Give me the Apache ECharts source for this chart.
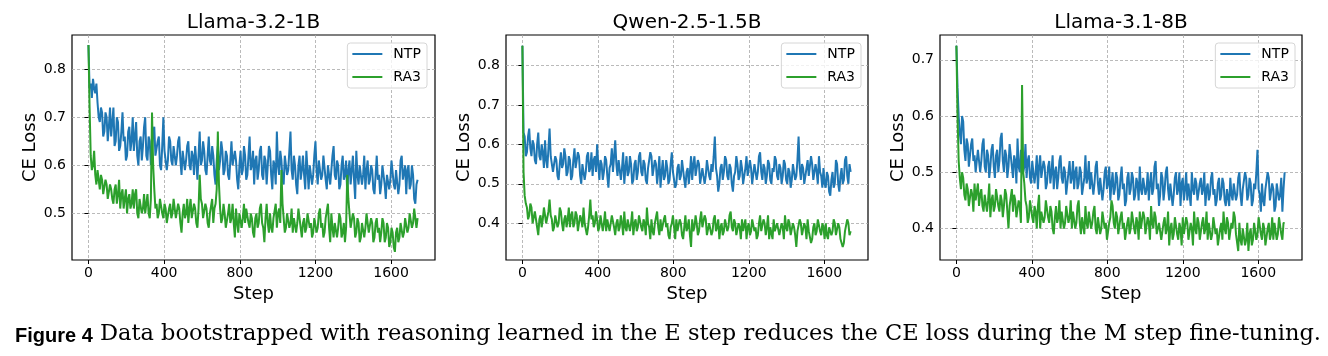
<!DOCTYPE html>
<html>
<head>
<meta charset="utf-8">
<script src="https://cdn.jsdelivr.net/npm/echarts@6/dist/echarts.min.js"></script>
<style>html,body{margin:0;padding:0;background:#fff;}#c{width:1328px;height:356px;}</style>
</head>
<body>
<div id="c"></div>
<script>
const panelTitles = ['Llama-3.2-1B', 'Qwen-2.5-1.5B', 'Llama-3.1-8B'];
const seriesNames = ['NTP', 'RA3'];
const xTicks = [0, 400, 800, 1200, 1600];
const yTicks1 = [0.5, 0.6, 0.7, 0.8];
const yTicks2 = [0.4, 0.5, 0.6, 0.7, 0.8];
const yTicks3 = [0.4, 0.5, 0.6, 0.7];

const steps = [0,6,12,18,24,30,36,42,48,54,60,66,72,78,84,90,96,102,108,114,
120,126,132,138,144,150,156,162,168,174,180,186,192,198,204,210,216,222,228,234,
240,246,252,258,264,270,276,282,288,294,300,306,312,318,324,330,336,342,348,354,
360,366,372,378,384,390,396,402,408,414,420,426,432,438,444,450,456,462,468,474,
480,486,492,498,504,510,516,522,528,534,540,546,552,558,564,570,576,582,588,594,
600,606,612,618,624,630,636,642,648,654,660,666,672,678,684,690,696,702,708,714,
720,726,732,738,744,750,756,762,768,774,780,786,792,798,804,810,816,822,828,834,
840,846,852,858,864,870,876,882,888,894,900,906,912,918,924,930,936,942,948,954,
960,966,972,978,984,990,996,1002,1008,1014,1020,1026,1032,1038,1044,1050,1056,1062,1068,1074,
1080,1086,1092,1098,1104,1110,1116,1122,1128,1134,1140,1146,1152,1158,1164,1170,1176,1182,1188,1194,
1200,1206,1212,1218,1224,1230,1236,1242,1248,1254,1260,1266,1272,1278,1284,1290,1296,1302,1308,1314,
1320,1326,1332,1338,1344,1350,1356,1362,1368,1374,1380,1386,1392,1398,1404,1410,1416,1422,1428,1434,
1440,1446,1452,1458,1464,1470,1476,1482,1488,1494,1500,1506,1512,1518,1524,1530,1536,1542,1548,1554,
1560,1566,1572,1578,1584,1590,1596,1602,1608,1614,1620,1626,1632,1638,1644,1650,1656,1662,1668,1674,
1680,1686,1692,1698,1704,1710,1716,1722,1728,1734,1740];

const llama1bNTP = [0.85,0.76,0.77,0.74,0.78,0.76,0.75,0.77,0.73,0.70,0.69,0.72,0.71,0.66,0.67,0.71,0.70,0.65,0.68,0.72,
0.66,0.69,0.72,0.64,0.65,0.70,0.69,0.63,0.64,0.67,0.71,0.65,0.66,0.61,0.62,0.67,0.68,0.63,0.65,0.70,
0.63,0.66,0.69,0.62,0.60,0.65,0.66,0.61,0.64,0.68,0.70,0.62,0.61,0.66,0.65,0.60,0.63,0.67,0.68,0.62,
0.62,0.65,0.66,0.60,0.59,0.64,0.70,0.63,0.63,0.59,0.61,0.66,0.65,0.61,0.60,0.64,0.64,0.60,0.62,0.65,
0.66,0.61,0.58,0.63,0.63,0.59,0.61,0.64,0.65,0.60,0.59,0.63,0.62,0.58,0.64,0.61,0.57,0.62,0.67,0.60,
0.61,0.65,0.63,0.59,0.58,0.62,0.66,0.61,0.60,0.64,0.62,0.58,0.56,0.61,0.64,0.59,0.61,0.65,0.63,0.58,
0.59,0.63,0.62,0.58,0.57,0.61,0.65,0.60,0.60,0.63,0.61,0.57,0.55,0.60,0.63,0.58,0.59,0.64,0.62,0.57,
0.58,0.62,0.66,0.59,0.60,0.63,0.56,0.61,0.62,0.57,0.59,0.63,0.64,0.58,0.57,0.62,0.61,0.56,0.60,0.64,
0.63,0.58,0.55,0.61,0.60,0.56,0.67,0.60,0.58,0.63,0.61,0.57,0.56,0.62,0.62,0.58,0.59,0.63,0.67,0.59,
0.57,0.62,0.60,0.56,0.54,0.60,0.62,0.57,0.59,0.62,0.58,0.55,0.63,0.59,0.55,0.60,0.60,0.56,0.58,0.62,
0.65,0.59,0.56,0.61,0.61,0.57,0.58,0.62,0.62,0.57,0.55,0.60,0.60,0.56,0.59,0.62,0.64,0.58,0.57,0.61,
0.60,0.55,0.56,0.60,0.62,0.57,0.58,0.61,0.54,0.59,0.61,0.56,0.59,0.62,0.57,0.53,0.63,0.58,0.56,0.60,
0.60,0.56,0.58,0.62,0.55,0.59,0.61,0.56,0.57,0.60,0.59,0.55,0.54,0.58,0.62,0.57,0.58,0.54,0.56,0.60,
0.60,0.56,0.53,0.58,0.58,0.55,0.57,0.61,0.61,0.56,0.55,0.59,0.59,0.54,0.56,0.61,0.62,0.57,0.57,0.60,
0.54,0.59,0.60,0.55,0.56,0.60,0.58,0.53,0.52,0.56,0.57];
const llama1bRA3 = [0.85,0.72,0.62,0.59,0.60,0.63,0.58,0.56,0.59,0.57,0.55,0.58,0.57,0.54,0.54,0.57,0.56,0.53,0.53,0.56,
0.55,0.53,0.52,0.55,0.56,0.52,0.54,0.57,0.51,0.54,0.55,0.51,0.53,0.55,0.50,0.53,0.54,0.51,0.52,0.55,
0.51,0.54,0.55,0.50,0.49,0.53,0.53,0.50,0.51,0.54,0.50,0.52,0.54,0.50,0.49,0.53,0.71,0.60,0.55,0.51,
0.52,0.49,0.50,0.53,0.53,0.50,0.49,0.52,0.51,0.48,0.48,0.51,0.52,0.49,0.50,0.53,0.53,0.49,0.49,0.52,
0.51,0.48,0.46,0.50,0.52,0.49,0.50,0.53,0.48,0.51,0.53,0.49,0.49,0.52,0.51,0.48,0.47,0.51,0.58,0.53,
0.52,0.49,0.49,0.52,0.51,0.48,0.47,0.50,0.50,0.53,0.48,0.51,0.52,0.55,0.67,0.56,0.51,0.48,0.49,0.52,
0.50,0.47,0.47,0.50,0.52,0.48,0.49,0.52,0.48,0.45,0.51,0.48,0.46,0.50,0.50,0.47,0.49,0.52,0.48,0.51,
0.51,0.48,0.47,0.50,0.49,0.46,0.45,0.49,0.50,0.47,0.48,0.51,0.52,0.48,0.47,0.44,0.49,0.52,0.48,0.46,
0.50,0.47,0.46,0.49,0.49,0.52,0.47,0.50,0.51,0.48,0.59,0.52,0.49,0.46,0.47,0.50,0.50,0.47,0.48,0.51,
0.46,0.49,0.49,0.46,0.48,0.51,0.51,0.47,0.45,0.48,0.49,0.46,0.47,0.50,0.50,0.47,0.48,0.45,0.46,0.49,
0.49,0.46,0.47,0.50,0.51,0.47,0.48,0.45,0.46,0.49,0.49,0.52,0.47,0.44,0.50,0.47,0.45,0.48,0.48,0.45,
0.47,0.50,0.49,0.45,0.46,0.48,0.44,0.47,0.58,0.53,0.50,0.47,0.47,0.50,0.49,0.45,0.46,0.49,0.48,0.44,
0.45,0.48,0.48,0.45,0.47,0.50,0.50,0.46,0.46,0.49,0.48,0.44,0.45,0.48,0.49,0.46,0.47,0.44,0.46,0.49,
0.48,0.44,0.45,0.48,0.47,0.43,0.44,0.47,0.46,0.43,0.42,0.46,0.47,0.44,0.45,0.48,0.48,0.45,0.46,0.49,
0.49,0.46,0.47,0.50,0.50,0.47,0.48,0.51,0.51,0.47,0.49];
const qwenNTP = [0.85,0.63,0.62,0.57,0.58,0.62,0.64,0.59,0.57,0.61,0.60,0.56,0.55,0.60,0.63,0.57,0.56,0.60,0.58,0.54,
0.61,0.56,0.54,0.59,0.64,0.57,0.57,0.53,0.53,0.57,0.56,0.52,0.51,0.55,0.58,0.54,0.55,0.59,0.57,0.52,
0.53,0.57,0.56,0.51,0.52,0.56,0.59,0.54,0.54,0.58,0.57,0.52,0.50,0.55,0.55,0.51,0.53,0.57,0.58,0.53,
0.54,0.58,0.52,0.56,0.57,0.53,0.60,0.55,0.51,0.56,0.55,0.51,0.53,0.57,0.56,0.52,0.49,0.54,0.55,0.59,
0.53,0.57,0.61,0.55,0.52,0.56,0.56,0.51,0.54,0.58,0.50,0.54,0.57,0.52,0.53,0.57,0.55,0.50,0.51,0.55,
0.56,0.51,0.53,0.57,0.58,0.53,0.52,0.56,0.55,0.51,0.50,0.54,0.54,0.58,0.57,0.52,0.52,0.56,0.55,0.50,
0.53,0.57,0.49,0.53,0.56,0.51,0.52,0.56,0.54,0.50,0.51,0.55,0.58,0.53,0.53,0.49,0.50,0.54,0.55,0.51,
0.52,0.56,0.56,0.51,0.49,0.53,0.54,0.50,0.53,0.57,0.51,0.55,0.57,0.52,0.52,0.56,0.55,0.50,0.50,0.54,
0.54,0.50,0.52,0.56,0.56,0.52,0.51,0.55,0.53,0.57,0.62,0.54,0.52,0.48,0.50,0.54,0.55,0.51,0.53,0.57,
0.56,0.52,0.51,0.55,0.54,0.50,0.48,0.52,0.53,0.57,0.55,0.51,0.52,0.56,0.54,0.50,0.50,0.54,0.57,0.52,
0.52,0.56,0.54,0.50,0.50,0.55,0.55,0.51,0.53,0.57,0.58,0.53,0.51,0.55,0.54,0.50,0.52,0.56,0.55,0.51,
0.50,0.54,0.53,0.57,0.56,0.52,0.51,0.55,0.54,0.50,0.52,0.56,0.55,0.51,0.50,0.54,0.53,0.49,0.51,0.55,
0.55,0.51,0.52,0.56,0.62,0.54,0.51,0.55,0.54,0.50,0.50,0.54,0.56,0.52,0.52,0.57,0.55,0.51,0.51,0.55,
0.53,0.50,0.57,0.53,0.52,0.49,0.54,0.50,0.49,0.53,0.52,0.48,0.47,0.51,0.53,0.49,0.50,0.56,0.55,0.50,
0.48,0.52,0.54,0.50,0.51,0.56,0.57,0.52,0.50,0.55,0.53];
const qwenRA3 = [0.85,0.53,0.47,0.45,0.44,0.41,0.42,0.45,0.44,0.40,0.40,0.43,0.43,0.39,0.37,0.41,0.42,0.39,0.41,0.44,
0.44,0.40,0.40,0.43,0.46,0.42,0.41,0.38,0.39,0.42,0.42,0.39,0.40,0.44,0.43,0.40,0.38,0.41,0.42,0.39,
0.41,0.44,0.39,0.42,0.43,0.39,0.40,0.43,0.42,0.38,0.38,0.42,0.41,0.39,0.44,0.40,0.40,0.37,0.39,0.42,
0.46,0.41,0.42,0.39,0.40,0.43,0.41,0.38,0.39,0.42,0.42,0.38,0.40,0.43,0.38,0.41,0.41,0.38,0.40,0.42,
0.42,0.39,0.37,0.40,0.41,0.38,0.39,0.42,0.40,0.37,0.43,0.39,0.38,0.41,0.41,0.38,0.40,0.43,0.37,0.40,
0.41,0.38,0.39,0.42,0.42,0.39,0.38,0.41,0.40,0.37,0.44,0.40,0.39,0.36,0.41,0.38,0.37,0.40,0.40,0.43,
0.39,0.37,0.41,0.38,0.38,0.41,0.42,0.39,0.40,0.37,0.36,0.39,0.40,0.42,0.39,0.36,0.41,0.38,0.38,0.41,
0.40,0.37,0.36,0.39,0.42,0.38,0.39,0.41,0.37,0.34,0.41,0.38,0.39,0.42,0.40,0.37,0.38,0.41,0.43,0.39,
0.39,0.42,0.41,0.37,0.37,0.40,0.40,0.37,0.38,0.41,0.42,0.38,0.39,0.41,0.36,0.39,0.40,0.37,0.38,0.41,
0.41,0.38,0.39,0.42,0.43,0.39,0.38,0.41,0.40,0.37,0.37,0.40,0.39,0.36,0.41,0.38,0.38,0.41,0.36,0.39,
0.40,0.37,0.38,0.41,0.41,0.38,0.39,0.36,0.37,0.40,0.42,0.38,0.38,0.41,0.40,0.37,0.39,0.42,0.36,0.39,
0.39,0.36,0.41,0.38,0.38,0.40,0.40,0.37,0.37,0.40,0.39,0.36,0.42,0.39,0.38,0.41,0.40,0.37,0.37,0.40,
0.39,0.37,0.34,0.38,0.38,0.41,0.40,0.37,0.37,0.40,0.39,0.36,0.41,0.38,0.38,0.35,0.36,0.39,0.40,0.37,
0.38,0.41,0.41,0.38,0.37,0.40,0.39,0.36,0.40,0.37,0.36,0.39,0.39,0.37,0.38,0.41,0.40,0.37,0.37,0.40,
0.39,0.36,0.36,0.34,0.35,0.38,0.38,0.41,0.40,0.37,0.38];
const llama8bNTP = [0.725,0.65,0.60,0.57,0.55,0.60,0.59,0.54,0.52,0.56,0.55,0.51,0.51,0.55,0.56,0.52,0.53,0.50,0.50,0.54,
0.54,0.50,0.52,0.55,0.56,0.51,0.50,0.54,0.53,0.49,0.51,0.54,0.55,0.51,0.49,0.53,0.54,0.50,0.52,0.56,
0.57,0.52,0.50,0.54,0.53,0.49,0.51,0.55,0.55,0.51,0.49,0.53,0.52,0.48,0.56,0.51,0.50,0.54,0.54,0.50,
0.51,0.55,0.49,0.52,0.53,0.49,0.48,0.52,0.52,0.48,0.50,0.53,0.47,0.51,0.53,0.49,0.49,0.52,0.51,0.47,
0.48,0.51,0.52,0.48,0.50,0.53,0.47,0.50,0.51,0.47,0.49,0.52,0.53,0.49,0.48,0.51,0.50,0.46,0.46,0.50,
0.52,0.48,0.49,0.52,0.47,0.50,0.51,0.47,0.48,0.51,0.50,0.46,0.46,0.49,0.53,0.48,0.49,0.52,0.47,0.50,
0.50,0.46,0.48,0.51,0.52,0.48,0.46,0.49,0.49,0.45,0.47,0.50,0.51,0.47,0.48,0.51,0.45,0.48,0.50,0.46,
0.47,0.50,0.49,0.45,0.46,0.49,0.51,0.47,0.48,0.44,0.45,0.49,0.50,0.46,0.47,0.50,0.49,0.45,0.46,0.49,
0.48,0.45,0.51,0.47,0.46,0.49,0.49,0.46,0.47,0.50,0.45,0.48,0.50,0.46,0.47,0.51,0.52,0.47,0.48,0.44,
0.46,0.50,0.49,0.45,0.47,0.50,0.51,0.47,0.45,0.48,0.48,0.44,0.46,0.49,0.50,0.46,0.47,0.50,0.44,0.48,
0.49,0.45,0.47,0.50,0.45,0.48,0.48,0.44,0.50,0.47,0.46,0.49,0.48,0.45,0.45,0.48,0.49,0.46,0.47,0.50,
0.44,0.47,0.48,0.45,0.46,0.49,0.50,0.46,0.47,0.44,0.45,0.48,0.49,0.45,0.46,0.49,0.48,0.45,0.44,0.47,
0.47,0.44,0.49,0.46,0.45,0.48,0.48,0.45,0.46,0.49,0.50,0.46,0.44,0.47,0.47,0.50,0.49,0.45,0.46,0.49,
0.48,0.44,0.45,0.48,0.47,0.50,0.54,0.47,0.46,0.43,0.48,0.45,0.44,0.47,0.47,0.50,0.49,0.45,0.45,0.48,
0.47,0.43,0.44,0.48,0.48,0.45,0.46,0.49,0.43,0.47,0.50];
const llama8bRA3 = [0.725,0.60,0.52,0.49,0.47,0.50,0.49,0.46,0.45,0.48,0.47,0.44,0.44,0.47,0.46,0.43,0.48,0.45,0.45,0.48,
0.44,0.46,0.47,0.44,0.43,0.46,0.46,0.43,0.45,0.48,0.42,0.45,0.46,0.43,0.44,0.47,0.47,0.44,0.43,0.46,
0.45,0.42,0.44,0.47,0.46,0.43,0.40,0.44,0.44,0.47,0.43,0.46,0.45,0.42,0.42,0.45,0.44,0.41,0.655,0.50,
0.48,0.45,0.44,0.41,0.42,0.45,0.45,0.42,0.41,0.44,0.43,0.40,0.44,0.46,0.40,0.43,0.43,0.41,0.42,0.45,
0.45,0.42,0.41,0.44,0.43,0.40,0.39,0.42,0.44,0.41,0.42,0.45,0.40,0.43,0.43,0.40,0.41,0.44,0.44,0.41,
0.42,0.45,0.40,0.43,0.43,0.40,0.41,0.44,0.45,0.41,0.39,0.42,0.42,0.39,0.44,0.41,0.40,0.43,0.43,0.40,
0.41,0.43,0.44,0.40,0.39,0.42,0.42,0.39,0.40,0.43,0.43,0.40,0.41,0.38,0.38,0.41,0.42,0.45,0.44,0.41,
0.40,0.43,0.42,0.39,0.39,0.42,0.43,0.40,0.41,0.38,0.38,0.41,0.42,0.39,0.40,0.43,0.43,0.40,0.39,0.42,
0.41,0.38,0.43,0.40,0.40,0.43,0.42,0.39,0.39,0.42,0.41,0.38,0.44,0.41,0.40,0.43,0.42,0.39,0.39,0.41,
0.41,0.38,0.38,0.41,0.42,0.39,0.40,0.43,0.37,0.40,0.41,0.38,0.39,0.42,0.42,0.39,0.38,0.41,0.40,0.37,
0.42,0.39,0.39,0.42,0.41,0.38,0.38,0.41,0.40,0.37,0.43,0.40,0.39,0.42,0.41,0.38,0.38,0.41,0.42,0.39,
0.40,0.43,0.38,0.41,0.41,0.38,0.39,0.42,0.42,0.39,0.40,0.37,0.37,0.40,0.41,0.38,0.43,0.40,0.39,0.42,
0.41,0.38,0.38,0.41,0.40,0.43,0.42,0.39,0.39,0.36,0.41,0.38,0.37,0.40,0.40,0.37,0.38,0.41,0.36,0.39,
0.40,0.37,0.38,0.41,0.41,0.38,0.39,0.42,0.42,0.39,0.38,0.41,0.40,0.37,0.37,0.40,0.41,0.38,0.39,0.42,
0.38,0.41,0.41,0.38,0.39,0.42,0.42,0.39,0.38,0.41,0.41];

const captionBold = 'Figure 4';
const captionText = 'Data bootstrapped with reasoning learned in the E step reduces the CE loss during the M step fine-tuning.';

const panelData = [[llama1bNTP, llama1bRA3], [qwenNTP, qwenRA3], [llama8bNTP, llama8bRA3]];
const yTicksAll = [yTicks1, yTicks2, yTicks3];
const yRanges = [[0.403, 0.871], [0.307, 0.877], [0.344, 0.744]];
const gridLefts = [72, 506, 940];
const gridWidths = [363, 362, 362];
const legendRights = [901, 467, 33];
const colors = ['#1f77b4', '#2ca02c'];
const FONT = 'DejaVu Sans';

function zip(xs, ys) { return xs.map((x, i) => [x, ys[i]]); }

const grid = [], xAxis = [], yAxis = [], series = [], title = [], legend = [];
const gridLine = { show: true, lineStyle: { color: '#a8a8a8', type: [3, 2], width: 0.8 } };
for (let p = 0; p < 3; p++) {
  grid.push({ left: gridLefts[p], top: 35, width: gridWidths[p], height: 225, show: true, borderColor: '#000', borderWidth: 1.2, backgroundColor: 'transparent' });
  title.push({ text: panelTitles[p], left: gridLefts[p] + gridWidths[p] / 2, top: 13, textAlign: 'center', padding: 0,
    textStyle: { fontFamily: FONT, fontSize: 20, fontWeight: 'normal', color: '#000' } });
  xAxis.push({ type: 'value', gridIndex: p, min: -87, max: 1832,
    name: 'Step', nameLocation: 'middle', nameGap: 21,
    nameTextStyle: { fontFamily: FONT, fontSize: 18, color: '#000' },
    axisLine: { show: false },
    axisTick: { show: true, length: 4, lineStyle: { color: '#000', width: 1 }, customValues: xTicks },
    axisLabel: { fontFamily: FONT, fontSize: 14, color: '#000', margin: 6, customValues: xTicks, formatter: v => String(v) },
    splitLine: gridLine });
  yAxis.push({ type: 'value', gridIndex: p, min: yRanges[p][0], max: yRanges[p][1],
    name: 'CE Loss', nameLocation: 'middle', nameGap: 33,
    nameTextStyle: { fontFamily: FONT, fontSize: 18, color: '#000' },
    axisLine: { show: false },
    axisTick: { show: true, length: 4, lineStyle: { color: '#000', width: 1 }, customValues: yTicksAll[p] },
    axisLabel: { fontFamily: FONT, fontSize: 14, color: '#000', margin: 6, customValues: yTicksAll[p], formatter: v => v.toFixed(1) },
    splitLine: gridLine });
  for (let s = 0; s < 2; s++) {
    series.push({ type: 'line', name: seriesNames[s], xAxisIndex: p, yAxisIndex: p,
      data: zip(steps, panelData[p][s]), showSymbol: false, symbol: 'none',
      lineStyle: { color: colors[s], width: 2 }, itemStyle: { color: colors[s] }, animation: false, z: 2 + s });
  }
  legend.push({ data: seriesNames, orient: 'vertical', right: legendRights[p], top: 43,
    icon: 'path://M0,0H30V2H0Z', symbolKeepAspect: true,
    padding: [4, 6, 4, 5], itemWidth: 30, itemHeight: 14, itemGap: 9,
    backgroundColor: 'rgba(255,255,255,0.8)', borderColor: '#d6d6d6', borderWidth: 1, borderRadius: 3,
    textStyle: { fontFamily: FONT, fontSize: 14, color: '#000', padding: [0, 0, 0, 6] } });
}

const chart = echarts.init(document.getElementById('c'), null, { renderer: 'canvas' });
chart.setOption({
  animation: false,
  backgroundColor: '#fff',
  title, grid, xAxis, yAxis, series, legend,
  graphic: [
    { type: 'text', left: 15, top: 326, style: { text: captionBold, font: 'bold 20px "Liberation Sans"', fill: '#000' } },
    { type: 'text', left: 100, top: 323, style: { text: captionText, font: '22.5px "DejaVu Serif"', fill: '#000' } }
  ]
});
</script>
</body>
</html>
